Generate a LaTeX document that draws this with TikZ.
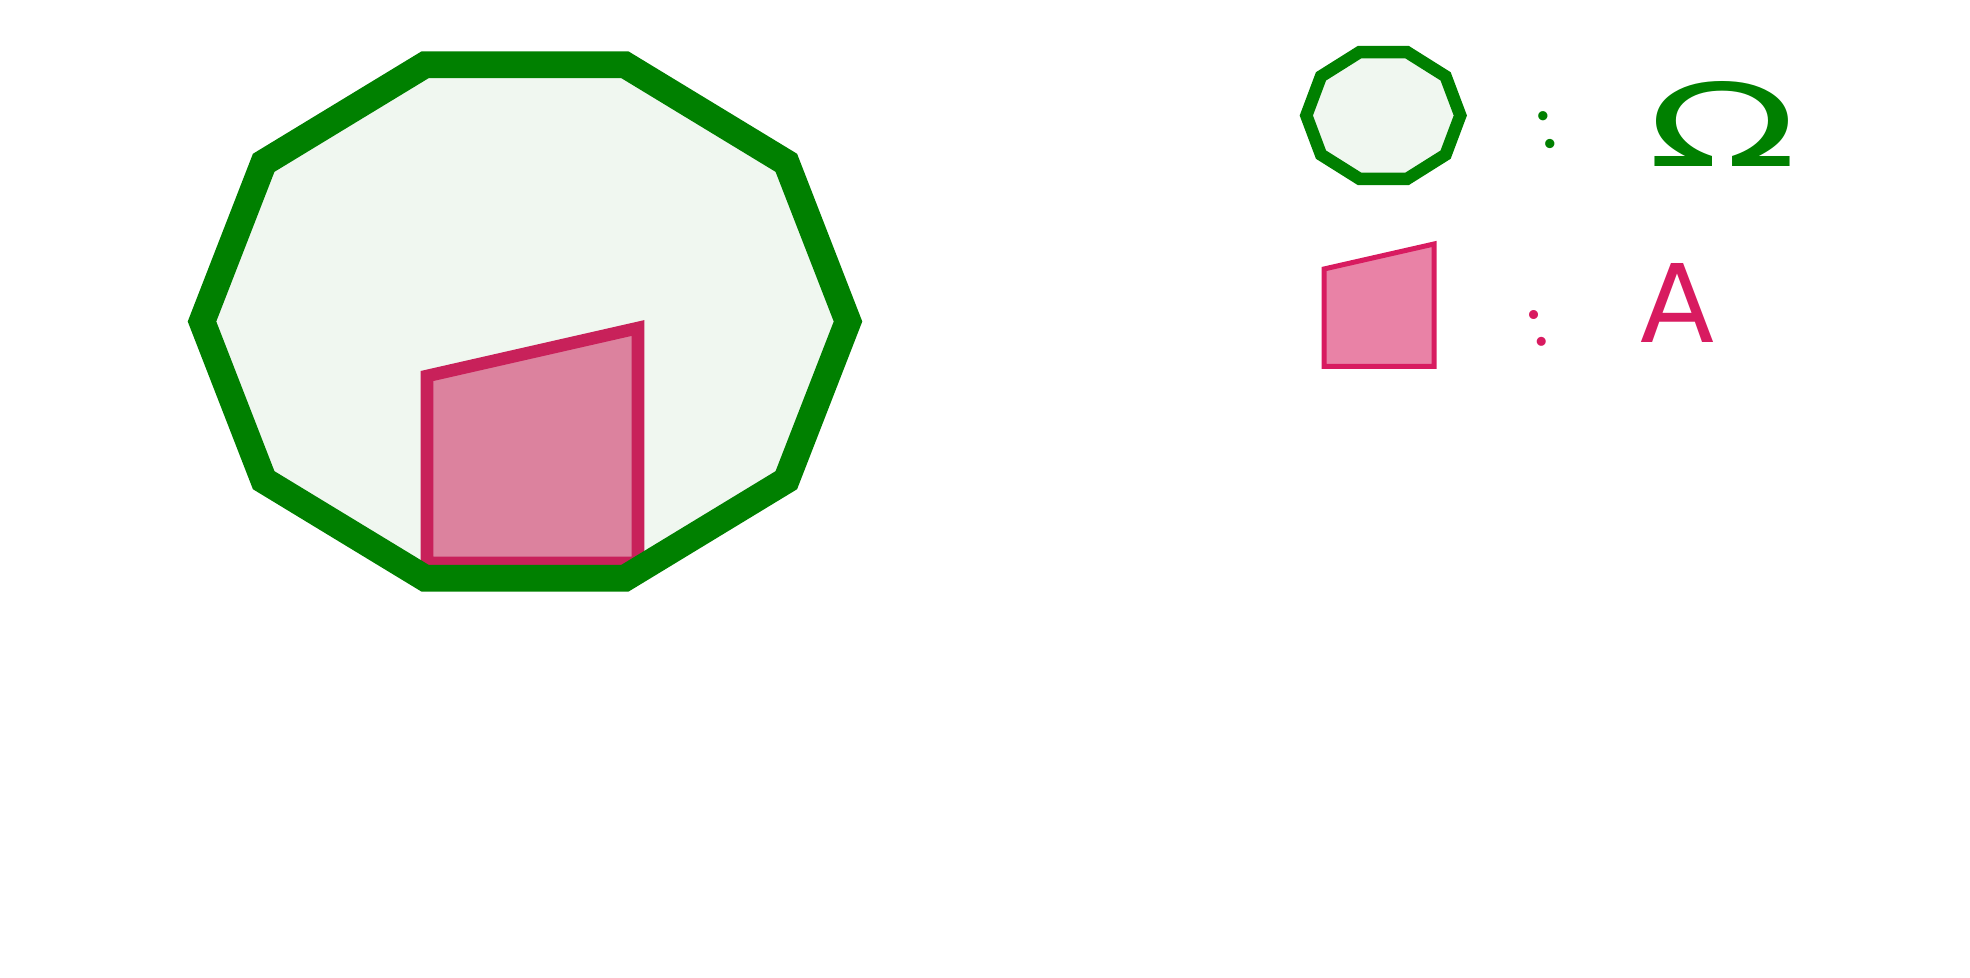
\documentclass[tikz,border=0pt]{standalone}
\usepackage{fontspec}
\usepackage{xcolor}
\usepackage{graphicx}
\usepackage{tikz}
\newfontfamily\keyfont{DejaVu Sans}
\definecolor{hgreen}{HTML}{008000}
\definecolor{hgreenbg}{HTML}{F0F7F0}
\definecolor{hpink}{HTML}{D81B60}
\definecolor{hpinkdk}{HTML}{C8215A}
\definecolor{hpinkbg}{HTML}{E982A6}
\definecolor{hpinkbgdk}{HTML}{DC829E}

\begin{document}
\begin{tikzpicture}[
  x=0.5pt, y=-0.5pt,
  bigregion/.style={fill=hgreenbg},
  bigedge/.style={draw=hgreen, line width=13.3pt},
  bigpatch/.style={draw=hpinkdk, fill=hpinkbgdk, line width=6.3pt},
  keyregion/.style={draw=hgreen, fill=hgreenbg, line width=6.2pt},
  keypatch/.style={draw=hpink, fill=hpinkbg, line width=2.5pt},
  colonmark/.style={inner sep=0pt},
  legendsym/.style={inner sep=0pt, font=\keyfont},
]
\useasboundingbox (0,0) rectangle (1970,978);
% region, patch on top, then the outline again
\fill[bigregion] plot[samples at={0,36,...,324}] ({525+323*cos(\x)}, {321.5+270*sin(\x)}) -- cycle;
\draw[bigpatch] (427,376) coordinate (pa) -- (638,328) coordinate (pb)
  -- (638,563) coordinate (pc) -- (427,563) coordinate (pd) -- cycle;
\draw[bigedge] plot[samples at={0,36,...,324}] ({525+323*cos(\x)}, {321.5+270*sin(\x)}) -- cycle;
% legend
\draw[keyregion] plot[samples at={0,36,...,324}] ({1383.3+77*cos(\x)}, {115.5+66.6*sin(\x)}) -- cycle;
\node[colonmark, text=hgreen, rotate=14] (colA) at (1546.3,130) {\resizebox{!}{19pt}{:}};
\node[legendsym, text=hgreen] (omega) at (1722,123.5) {\resizebox{75pt}{42.5pt}{Ω}};
\draw[keypatch] (1324,269) coordinate (ka) -- (1434,244) coordinate (kb)
  -- (1434,366.5) coordinate (kc) -- (1324,366.5) coordinate (kd) -- cycle;
\node[colonmark, text=hpink, rotate=16] (colB) at (1538,328.5) {\resizebox{!}{18.5pt}{:}};
\node[legendsym, text=hpink] (alef) at (1677,302.5) {\resizebox{37pt}{39.5pt}{A}};
\end{tikzpicture}
\end{document}
